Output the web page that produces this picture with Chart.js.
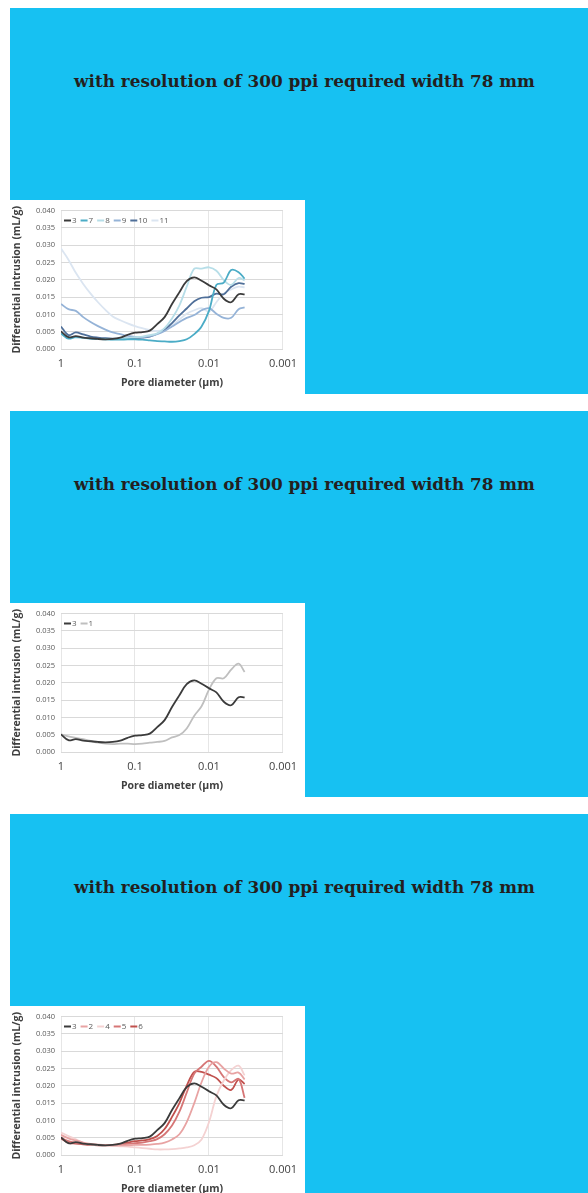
<!DOCTYPE html>
<html lang="en">
<head>
  <meta charset="UTF-8" />
  <title>Differential intrusion vs pore diameter</title>
  <script src="https://cdn.jsdelivr.net/npm/chart.js"></script>
  <style>
    html, body { margin: 0; padding: 0; background: #fff; }
    body { width: 588px; height: 1193px; position: relative; overflow: hidden; }
    .panel {
      position: absolute;
      left: 10px;
      width: 578px;
      height: 386px;
      background: #17c1f2;
    }
    .caption {
      position: absolute;
      left: 0;
      top: 63px;
      width: 589px;
      line-height: 20px;
      text-align: center;
      font-family: "DejaVu Serif", serif;
      font-weight: bold;
      font-size: 17px;
      color: #231f20;
      white-space: nowrap;
    }
    .chart-box {
      position: absolute;
      left: 0;
      top: 192px;
      width: 295px;
      height: 194px;
      background: #fff;
    }
    canvas { display: block; }
  </style>
</head>
<body>
  <div class="panel" style="top: 8px;">
    <div class="caption"><span>with resolution of 300 ppi required width 78 mm</span></div>
    <div class="chart-box"><canvas id="chart1" width="295" height="194"></canvas></div>
  </div>
  <div class="panel" style="top: 411px;">
    <div class="caption"><span>with resolution of 300 ppi required width 78 mm</span></div>
    <div class="chart-box"><canvas id="chart2" width="295" height="194"></canvas></div>
  </div>
  <div class="panel" style="top: 814px;">
    <div class="caption"><span>with resolution of 300 ppi required width 78 mm</span></div>
    <div class="chart-box"><canvas id="chart3" width="295" height="194"></canvas></div>
  </div>

  <script>
    // pore diameter (µm)
    const diameters = [1, 0.794, 0.631, 0.501, 0.398, 0.316, 0.251, 0.2, 0.158, 0.126,
      0.1, 0.0794, 0.0631, 0.0501, 0.0398, 0.0316, 0.0251, 0.02, 0.0158, 0.0126,
      0.01, 0.00794, 0.00631, 0.00501, 0.00398, 0.0033];
    const xTicks = [1, 0.1, 0.01, 0.001];

    // differential intrusion (mL/g) per sample
    const sample1 = [0.0051, 0.0045, 0.0041, 0.0037, 0.0032, 0.0027, 0.0024, 0.0023, 0.0024, 0.0024,
      0.0023, 0.0024, 0.0027, 0.0029, 0.0032, 0.0042, 0.0049, 0.0068, 0.0105, 0.0132,
      0.0180, 0.0213, 0.0213, 0.0238, 0.0255, 0.0231];
    const sample2 = [0.0058, 0.0048, 0.0042, 0.0036, 0.0032, 0.0030, 0.0029, 0.0028, 0.0028, 0.0028,
      0.0029, 0.0029, 0.0030, 0.0032, 0.0036, 0.0045, 0.0060, 0.0095, 0.0150, 0.0210,
      0.0255, 0.0268, 0.0250, 0.0235, 0.0238, 0.0218];
    const sample3 = [0.0051, 0.0034, 0.0037, 0.0033, 0.0031, 0.0029, 0.0028, 0.0029, 0.0033, 0.0041,
      0.0047, 0.0049, 0.0053, 0.0072, 0.0092, 0.0130, 0.0164, 0.0196, 0.0207, 0.0197,
      0.0184, 0.0172, 0.0145, 0.0135, 0.0158, 0.0158];
    const sample4 = [0.0065, 0.0055, 0.0045, 0.0035, 0.0030, 0.0028, 0.0027, 0.0026, 0.0025, 0.0024,
      0.0022, 0.0020, 0.0018, 0.0016, 0.0016, 0.0017, 0.0019, 0.0022, 0.0028, 0.0045,
      0.0095, 0.0170, 0.0215, 0.0245, 0.0258, 0.0230];
    const sample5 = [0.0050, 0.0040, 0.0035, 0.0032, 0.0030, 0.0029, 0.0029, 0.0029, 0.0030, 0.0032,
      0.0034, 0.0036, 0.0040, 0.0046, 0.0060, 0.0085, 0.0125, 0.0180, 0.0235, 0.0255,
      0.0272, 0.0255, 0.0225, 0.0210, 0.0220, 0.0165];
    const sample6 = [0.0048, 0.0035, 0.0033, 0.0031, 0.0029, 0.0028, 0.0028, 0.0029, 0.0032, 0.0036,
      0.0040, 0.0042, 0.0046, 0.0055, 0.0075, 0.0110, 0.0150, 0.0200, 0.0240, 0.0240,
      0.0232, 0.0222, 0.0200, 0.0188, 0.0218, 0.0205];
    const sample7 = [0.0045, 0.0030, 0.0035, 0.0033, 0.0030, 0.0029, 0.0028, 0.0027, 0.0027, 0.0028,
      0.0028, 0.0027, 0.0025, 0.0023, 0.0022, 0.0021, 0.0023, 0.0028, 0.0043, 0.0065,
      0.0110, 0.0185, 0.0192, 0.0228, 0.0222, 0.0203];
    const sample8 = [0.0045, 0.0035, 0.0033, 0.0032, 0.0030, 0.0029, 0.0028, 0.0028, 0.0030, 0.0032,
      0.0034, 0.0036, 0.0040, 0.0045, 0.0060, 0.0088, 0.0126, 0.0180, 0.0232, 0.0232,
      0.0236, 0.0226, 0.0199, 0.0185, 0.0205, 0.0198];
    const sample9 = [0.0130, 0.0115, 0.0110, 0.0092, 0.0078, 0.0066, 0.0056, 0.0048, 0.0043, 0.0038,
      0.0035, 0.0034, 0.0037, 0.0043, 0.0052, 0.0065, 0.0078, 0.0090, 0.0098, 0.0112,
      0.0118, 0.0102, 0.0090, 0.0090, 0.0115, 0.0120];
    const sample10 = [0.0065, 0.0040, 0.0048, 0.0042, 0.0036, 0.0033, 0.0031, 0.0030, 0.0030, 0.0031,
      0.0032, 0.0033, 0.0036, 0.0044, 0.0055, 0.0075, 0.0097, 0.0117, 0.0138, 0.0148,
      0.0150, 0.0160, 0.0158, 0.0180, 0.0190, 0.0188];
    const sample11 = [0.0290, 0.0258, 0.0220, 0.0188, 0.0160, 0.0135, 0.0113, 0.0094, 0.0083, 0.0074,
      0.0066, 0.0060, 0.0055, 0.0052, 0.0056, 0.0068, 0.0085, 0.0102, 0.0112, 0.0118,
      0.0108, 0.0135, 0.0160, 0.0172, 0.0180, 0.0178];

    // one-row legend tucked inside the top-left of the plot, Excel style
    const inlineLegend = {
      id: "inlineLegend",
      afterDraw(chart) {
        const { ctx, chartArea } = chart;
        let x = chartArea.left + 3;
        const y = chartArea.top + 10;
        ctx.save();
        ctx.font = "8px 'Open Sans'";
        ctx.textBaseline = "middle";
        chart.data.datasets.forEach(ds => {
          ctx.strokeStyle = ds.borderColor;
          ctx.lineWidth = 2;
          ctx.beginPath();
          ctx.moveTo(x, y);
          ctx.lineTo(x + 7, y);
          ctx.stroke();
          x += 8;
          ctx.fillStyle = "#595959";
          ctx.fillText(ds.label, x, y);
          x += ctx.measureText(ds.label).width + 4;
        });
        ctx.restore();
      }
    };

    function buildChart(id, series) {
      const ctx = document.getElementById(id).getContext("2d");
      new Chart(ctx, {
        type: "line",
        data: {
          datasets: series.map(s => ({
            label: s.label,
            data: diameters.map((d, i) => ({ x: d, y: s.values[i] })),
            borderColor: s.color,
            backgroundColor: s.color,
            borderWidth: 1.8,
            pointRadius: 0,
            tension: 0.35,
            fill: false
          }))
        },
        options: {
          responsive: false,
          animation: false,
          layout: { padding: { top: 9, right: 16, left: 0, bottom: 0 } },
          plugins: {
            tooltip: { enabled: false },
            legend: { display: false }
          },
          scales: {
            x: {
              type: "logarithmic",
              reverse: true,
              min: 0.001,
              max: 1,
              afterBuildTicks: sc => { sc.ticks = xTicks.map(v => ({ value: v })); },
              afterFit: sc => { sc.height = 45; },
              grid: { color: "#e6e6e6", drawTicks: false },
              border: { display: false },
              ticks: {
                padding: 8,
                color: "#404040",
                font: { family: "Open Sans", size: 11 },
                callback: v => String(v)
              },
              title: {
                display: true,
                text: "Pore diameter (µm)",
                color: "#404040",
                font: { family: "Open Sans", size: 10.5, weight: "bold" },
                padding: { top: 0, bottom: 5 }
              }
            },
            y: {
              min: 0,
              max: 0.04,
              afterFit: sc => { sc.width = 51; },
              grid: { color: "#d9d9d9", drawTicks: false },
              border: { display: false },
              ticks: {
                stepSize: 0.005,
                padding: 6,
                color: "#595959",
                font: { family: "Open Sans", size: 7.5 },
                callback: v => v.toFixed(3)
              },
              title: {
                display: true,
                text: "Differential intrusion (mL/g)",
                color: "#404040",
                font: { family: "Open Sans", size: 10.5, weight: "bold" },
                padding: { top: 1, bottom: 0 }
              }
            }
          }
        },
        plugins: [inlineLegend]
      });
    }

    buildChart("chart1", [
      { label: "3", values: sample3, color: "#3b3b3b" },
      { label: "7", values: sample7, color: "#4bacc6" },
      { label: "8", values: sample8, color: "#b7dee8" },
      { label: "9", values: sample9, color: "#95b3d7" },
      { label: "10", values: sample10, color: "#4f6f99" },
      { label: "11", values: sample11, color: "#dbe5f1" }
    ]);

    buildChart("chart2", [
      { label: "3", values: sample3, color: "#3b3b3b" },
      { label: "1", values: sample1, color: "#bfbfbf" }
    ]);

    buildChart("chart3", [
      { label: "3", values: sample3, color: "#3b3b3b" },
      { label: "2", values: sample2, color: "#e8a3a3" },
      { label: "4", values: sample4, color: "#f4d2d2" },
      { label: "5", values: sample5, color: "#d67676" },
      { label: "6", values: sample6, color: "#c0504d" }
    ]);

    // squeeze the caption to the printed width
    document.querySelectorAll(".caption span").forEach(sp => {
      const w = sp.getBoundingClientRect().width;
      sp.style.fontSize = (17 * 461 / w).toFixed(2) + "px";
    });
  </script>
</body>
</html>
